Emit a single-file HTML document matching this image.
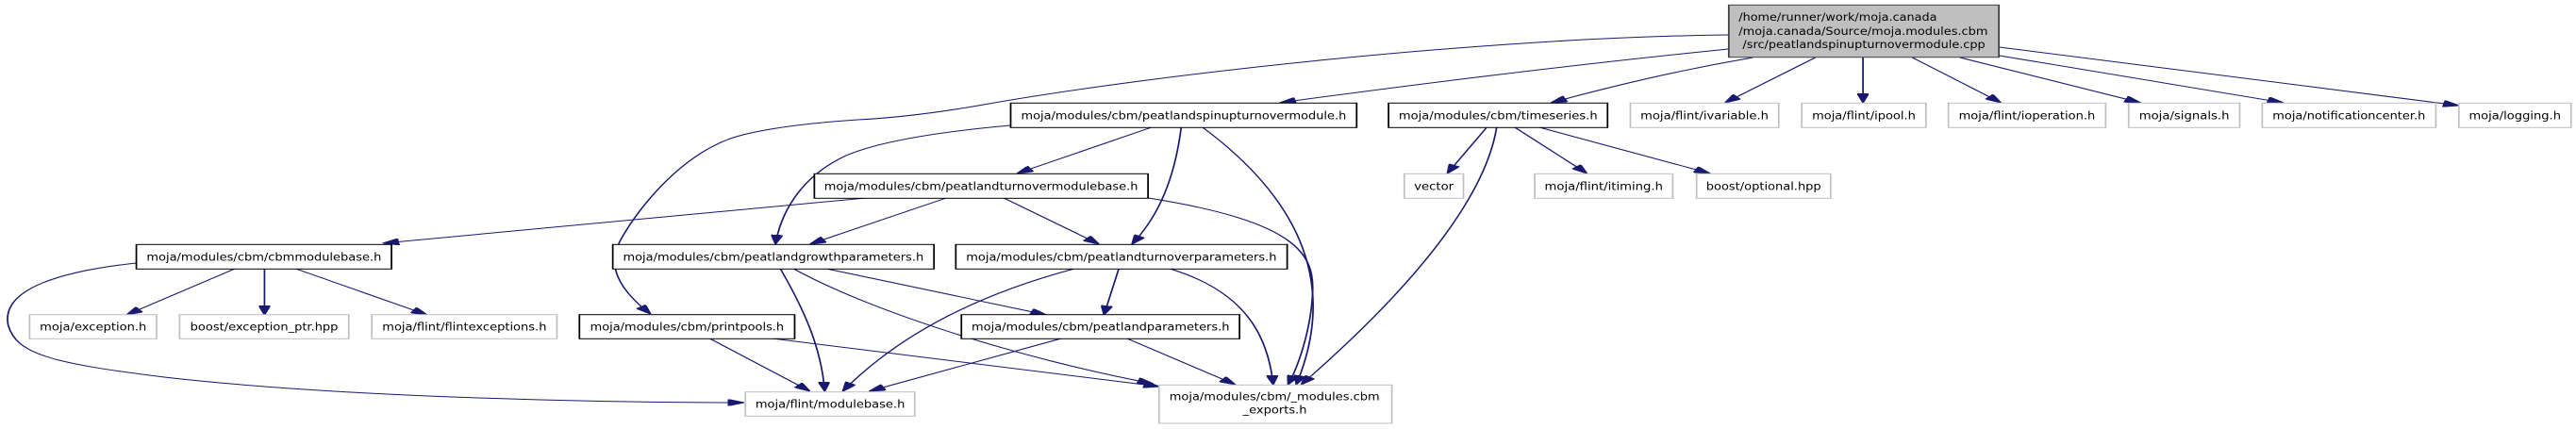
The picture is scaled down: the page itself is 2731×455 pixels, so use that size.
<!DOCTYPE html>
<html><head><meta charset="utf-8"><style>
html,body{margin:0;padding:0;background:#fff;}
svg{display:block;}
text{font-family:"DejaVu Sans","Liberation Sans",sans-serif;font-size:11.5px;fill:#000;}
.n{fill:#fff;stroke:#000;stroke-width:1;}
.g{fill:#fff;stroke:#c0c0c0;stroke-width:1;}
.e{fill:none;stroke:#191970;stroke-width:1;}
</style></head><body>
<svg width="2731" height="455" viewBox="0 0 1568 455" preserveAspectRatio="none" xmlns="http://www.w3.org/2000/svg">
<defs>
<marker id="a" markerUnits="userSpaceOnUse" markerWidth="10" markerHeight="7" refX="10" refY="3.5" orient="auto">
<path d="M0,0 L10,3.5 L0,7 z" fill="#191970" stroke="#191970"/>
</marker>
</defs>
<g>
<path class="e" marker-end="url(#a)" d="M1052,37 C900,40 700,80 602,110 C570,120 545,125 522,127 C480,132 455,140 443,148 C410,170 385,230 377,257 C370,280 375,305 396,333"/>
<path class="e" marker-end="url(#a)" d="M1052,52 C950,70 850,92 779,109"/>
<path class="e" marker-end="url(#a)" d="M1067,61 C1020,75 980,92 944,109"/>
<path class="e" marker-end="url(#a)" d="M1105,61 L1050,109"/>
<path class="e" marker-end="url(#a)" d="M1134,61 L1134,109"/>
<path class="e" marker-end="url(#a)" d="M1164,61 L1218,109"/>
<path class="e" marker-end="url(#a)" d="M1193,61 L1303,109"/>
<path class="e" marker-end="url(#a)" d="M1217,59 L1390,109"/>
<path class="e" marker-end="url(#a)" d="M1217,50 L1497,112"/>
<path class="e" marker-end="url(#a)" d="M701,135 L619,184"/>
<path class="e" marker-end="url(#a)" d="M719,135 C715,190 705,230 689,259"/>
<path class="e" marker-end="url(#a)" d="M732,135 C790,210 815,300 789,408"/>
<path class="e" marker-end="url(#a)" d="M615,133 C570,140 535,150 515,165 C490,185 476,220 472,259"/>
<path class="e" marker-end="url(#a)" d="M527,210 L233,258"/>
<path class="e" marker-end="url(#a)" d="M576,210 L493,259"/>
<path class="e" marker-end="url(#a)" d="M611,210 L669,259"/>
<path class="e" marker-end="url(#a)" d="M699,210 C790,235 800,270 799,310 C798,350 790,390 784,408"/>
<path class="e" marker-end="url(#a)" d="M475,285 C490,330 500,370 502,415"/>
<path class="e" marker-end="url(#a)" d="M503,285 L637,334"/>
<path class="e" marker-end="url(#a)" d="M483,285 C530,330 620,380 702,407"/>
<path class="e" marker-end="url(#a)" d="M654,285 C600,310 550,350 513,415"/>
<path class="e" marker-end="url(#a)" d="M681,285 L672,334"/>
<path class="e" marker-end="url(#a)" d="M712,285 C760,310 772,360 775,408"/>
<path class="e" marker-end="url(#a)" d="M646,359 L529,415"/>
<path class="e" marker-end="url(#a)" d="M686,359 L752,408"/>
<path class="e" marker-end="url(#a)" d="M432,359 L493,415"/>
<path class="e" marker-end="url(#a)" d="M470,359 L706,410"/>
<path class="e" marker-end="url(#a)" d="M143,285 L77,334"/>
<path class="e" marker-end="url(#a)" d="M161,285 L161,334"/>
<path class="e" marker-end="url(#a)" d="M180,285 L260,334"/>
<path class="e" marker-end="url(#a)" d="M83,279 C40,287 0,305 5,345 C10,375 30,385 100,400 C200,420 350,427 453,427"/>
<path class="e" marker-end="url(#a)" d="M905,135 L881,184"/>
<path class="e" marker-end="url(#a)" d="M922,135 L966,184"/>
<path class="e" marker-end="url(#a)" d="M937,135 L1041,184"/>
<path class="e" marker-end="url(#a)" d="M911,135 C905,200 870,290 792,408"/>
</g>

<rect x="1052.3" y="5.3" width="164.4" height="55.4" fill="#bfbfbf" stroke="#404040" stroke-width="1"/>
<text x="1058.3" y="22" textLength="120.7" lengthAdjust="spacingAndGlyphs">/home/runner/work/moja.canada</text>
<text x="1058.3" y="37" textLength="151.7" lengthAdjust="spacingAndGlyphs">/moja.canada/Source/moja.modules.cbm</text>
<text x="1060.7" y="51" textLength="147.7" lengthAdjust="spacingAndGlyphs">/src/peatlandspinupturnovermodule.cpp</text>

<rect class="n" x="615.2" y="109.3" width="210.6" height="26"/>
<text x="720.5" y="126.5" text-anchor="middle" textLength="198" lengthAdjust="spacingAndGlyphs">moja/modules/cbm/peatlandspinupturnovermodule.h</text>
<rect class="n" x="845.2" y="109.3" width="133.3" height="26"/>
<text x="911.9" y="126.5" text-anchor="middle" textLength="121" lengthAdjust="spacingAndGlyphs">moja/modules/cbm/timeseries.h</text>
<rect class="g" x="992.4" y="109.3" width="90.3" height="26"/>
<text x="1037.5" y="126.5" text-anchor="middle" textLength="78" lengthAdjust="spacingAndGlyphs">moja/flint/ivariable.h</text>
<rect class="g" x="1096.7" y="109.3" width="75.6" height="26"/>
<text x="1134.5" y="126.5" text-anchor="middle" textLength="63" lengthAdjust="spacingAndGlyphs">moja/flint/ipool.h</text>
<rect class="g" x="1186" y="109.3" width="95.7" height="26"/>
<text x="1233.8" y="126.5" text-anchor="middle" textLength="83" lengthAdjust="spacingAndGlyphs">moja/flint/ioperation.h</text>
<rect class="g" x="1295.7" y="109.3" width="67.6" height="26"/>
<text x="1329.5" y="126.5" text-anchor="middle" textLength="55" lengthAdjust="spacingAndGlyphs">moja/signals.h</text>
<rect class="g" x="1377" y="109.3" width="105.7" height="26"/>
<text x="1429.8" y="126.5" text-anchor="middle" textLength="93" lengthAdjust="spacingAndGlyphs">moja/notificationcenter.h</text>
<rect class="g" x="1496.7" y="109.3" width="68.3" height="26"/>
<text x="1530.8" y="126.5" text-anchor="middle" textLength="56" lengthAdjust="spacingAndGlyphs">moja/logging.h</text>

<rect class="g" x="854.8" y="184.3" width="36" height="26"/>
<text x="872.8" y="201.5" text-anchor="middle" textLength="24" lengthAdjust="spacingAndGlyphs">vector</text>
<rect class="g" x="934.2" y="184.3" width="84" height="26"/>
<text x="976.2" y="201.5" text-anchor="middle" textLength="72" lengthAdjust="spacingAndGlyphs">moja/flint/itiming.h</text>
<rect class="g" x="1032.7" y="184.3" width="81.6" height="26"/>
<text x="1073.5" y="201.5" text-anchor="middle" textLength="70" lengthAdjust="spacingAndGlyphs">boost/optional.hpp</text>
<rect class="n" x="495.7" y="184.3" width="203.1" height="26"/>
<text x="597.2" y="201.5" text-anchor="middle" textLength="191" lengthAdjust="spacingAndGlyphs">moja/modules/cbm/peatlandturnovermodulebase.h</text>

<rect class="n" x="83" y="259.3" width="155.3" height="26"/>
<text x="160.7" y="276.5" text-anchor="middle" textLength="143" lengthAdjust="spacingAndGlyphs">moja/modules/cbm/cbmmodulebase.h</text>
<rect class="n" x="373" y="259.3" width="195.5" height="26"/>
<text x="470.7" y="276.5" text-anchor="middle" textLength="183" lengthAdjust="spacingAndGlyphs">moja/modules/cbm/peatlandgrowthparameters.h</text>
<rect class="n" x="581.8" y="259.3" width="201.7" height="26"/>
<text x="682.6" y="276.5" text-anchor="middle" textLength="189" lengthAdjust="spacingAndGlyphs">moja/modules/cbm/peatlandturnoverparameters.h</text>

<rect class="g" x="18" y="333.7" width="77.3" height="25.6"/>
<text x="56.7" y="350.5" text-anchor="middle" textLength="65" lengthAdjust="spacingAndGlyphs">moja/exception.h</text>
<rect class="g" x="109.3" y="333.7" width="103" height="25.6"/>
<text x="160.8" y="350.5" text-anchor="middle" textLength="90" lengthAdjust="spacingAndGlyphs">boost/exception_ptr.hpp</text>
<rect class="g" x="226.3" y="333.7" width="112.7" height="25.6"/>
<text x="282.7" y="350.5" text-anchor="middle" textLength="100" lengthAdjust="spacingAndGlyphs">moja/flint/flintexceptions.h</text>
<rect class="n" x="352.7" y="333.7" width="131" height="25.6"/>
<text x="418.2" y="350.5" text-anchor="middle" textLength="118" lengthAdjust="spacingAndGlyphs">moja/modules/cbm/printpools.h</text>
<rect class="n" x="585.2" y="333.7" width="169.3" height="25.6"/>
<text x="669.9" y="350.5" text-anchor="middle" textLength="157" lengthAdjust="spacingAndGlyphs">moja/modules/cbm/peatlandparameters.h</text>

<rect class="g" x="453.7" y="415.7" width="103.1" height="25.6"/>
<text x="505.3" y="432.5" text-anchor="middle" textLength="91" lengthAdjust="spacingAndGlyphs">moja/flint/modulebase.h</text>
<rect class="g" x="705.5" y="408.3" width="141.7" height="40.7"/>
<text x="775.8" y="424.5" text-anchor="middle" textLength="128" lengthAdjust="spacingAndGlyphs">moja/modules/cbm/_modules.cbm</text>
<text x="776" y="438.5" text-anchor="middle" textLength="39" lengthAdjust="spacingAndGlyphs">_exports.h</text>
</svg>
</body></html>
